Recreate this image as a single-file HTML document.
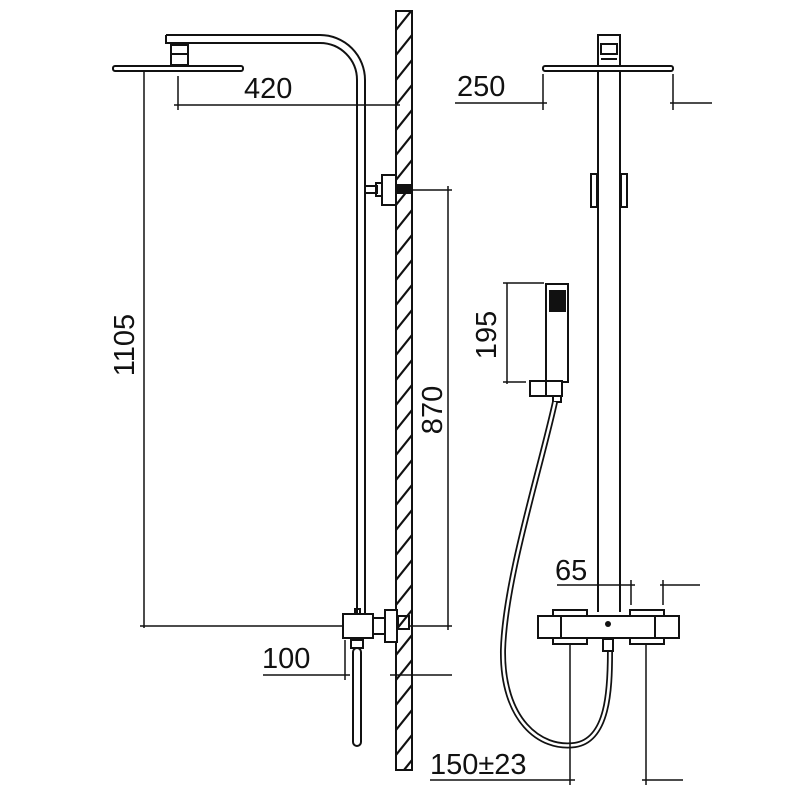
<!DOCTYPE html>
<html><head><meta charset="utf-8"><style>
html,body{margin:0;padding:0;background:#fff;}
svg{display:block;}
text{font-family:"Liberation Sans",sans-serif;font-size:29px;fill:#111;}
</style></head><body>
<svg width="800" height="800" viewBox="0 0 800 800" xmlns="http://www.w3.org/2000/svg">
<defs>
<clipPath id="wc"><rect x="396" y="11" width="16" height="759"/></clipPath>
</defs>
<g fill="none" stroke="#111" stroke-width="2">
<!-- wall -->
<rect x="396" y="11" width="16" height="759" fill="#fff"/>
<g clip-path="url(#wc)" stroke-width="2.2">
<path d="M396 30 L412 10 M396 55 L412 35 M396 80 L412 60 M396 105 L412 85 M396 130 L412 110 M396 155 L412 135 M396 180 L412 160 M396 205 L412 185 M396 230 L412 210 M396 255 L412 235 M396 280 L412 260 M396 305 L412 285 M396 330 L412 310 M396 355 L412 335 M396 380 L412 360 M396 405 L412 385 M396 430 L412 410 M396 455 L412 435 M396 480 L412 460 M396 505 L412 485 M396 530 L412 510 M396 555 L412 535 M396 580 L412 560 M396 605 L412 585 M396 630 L412 610 M396 655 L412 635 M396 680 L412 660 M396 705 L412 685 M396 730 L412 710 M396 755 L412 735 M396 780 L412 760"/>
</g>
<!-- left view head -->
<rect x="113" y="66" width="130" height="5" rx="2"/>
<rect x="171" y="45" width="17" height="20"/>
<line x1="171" y1="54" x2="188" y2="54"/>
<path d="M166 35 L320 35 A45 45 0 0 1 365 80 L365 614"/>
<path d="M166 35 L166 43 L320 43 A37 37 0 0 1 357 80 L357 614"/>
<!-- 420 -->
<line x1="178" y1="76" x2="178" y2="110" stroke-width="1.5"/>
<line x1="174" y1="105" x2="400" y2="105" stroke-width="1.5"/>
<!-- 1105 -->
<line x1="144" y1="71" x2="144" y2="628" stroke-width="1.5"/>
<line x1="140" y1="626" x2="345" y2="626" stroke-width="1.5"/>
<!-- bracket -->
<rect x="365" y="186" width="12" height="7"/>
<rect x="376" y="183" width="6" height="13"/>
<rect x="382" y="175" width="14" height="30"/>
<rect x="396" y="185" width="14" height="8" fill="#111"/>
<line x1="410" y1="190" x2="452" y2="190" stroke-width="1.5"/>
<!-- 870 -->
<line x1="448" y1="186" x2="448" y2="630" stroke-width="1.5"/>
<line x1="410" y1="626" x2="452" y2="626" stroke-width="1.5"/>
<!-- mixer left -->
<rect x="343" y="614" width="30" height="24" fill="#fff"/>
<rect x="373" y="618" width="13" height="16"/>
<rect x="385" y="610" width="12" height="32" fill="#fff"/>
<rect x="398" y="616" width="11" height="13"/>
<rect x="351" y="640" width="12" height="8"/>
<rect x="353" y="648" width="8" height="98" rx="4"/>
<rect x="355" y="609" width="5" height="5"/>
<!-- 100 -->
<line x1="263" y1="675" x2="350" y2="675" stroke-width="1.5"/>
<line x1="345" y1="640" x2="345" y2="680" stroke-width="1.5"/>
<line x1="390" y1="675" x2="452" y2="675" stroke-width="1.5"/>
<!-- right view -->
<rect x="543" y="66" width="130" height="5" rx="2"/>
<rect x="598" y="35" width="22" height="31"/>
<rect x="601" y="44" width="16" height="10"/>
<line x1="601" y1="59" x2="617" y2="59"/>
<line x1="598" y1="71" x2="598" y2="612"/>
<line x1="620" y1="71" x2="620" y2="612"/>
<rect x="591" y="174" width="6" height="33"/>
<rect x="621" y="174" width="6" height="33"/>
<!-- 250 -->
<line x1="455" y1="103" x2="547" y2="103" stroke-width="1.5"/>
<line x1="543" y1="74" x2="543" y2="110" stroke-width="1.5"/>
<line x1="673" y1="74" x2="673" y2="110" stroke-width="1.5"/>
<line x1="670" y1="103" x2="712" y2="103" stroke-width="1.5"/>
<!-- handshower -->
<rect x="546" y="284" width="22" height="98" fill="#fff"/>
<rect x="550" y="291" width="15" height="20" fill="#111"/>
<rect x="530" y="381" width="32" height="15" fill="#fff"/>
<line x1="546" y1="381" x2="546" y2="396"/>
<rect x="553" y="396" width="8" height="6"/>
<!-- 195 -->
<line x1="507" y1="283" x2="507" y2="384" stroke-width="1.5"/>
<line x1="503" y1="283" x2="544" y2="283" stroke-width="1.5"/>
<line x1="503" y1="382" x2="526" y2="382" stroke-width="1.5"/>
<!-- hose -->
<path d="M555 402 C540 470 505 580 503 650 C502 720 540 750 575 745 C608 740 610 690 610 652" stroke-width="6"/>
<path d="M555 402 C540 470 505 580 503 650 C502 720 540 750 575 745 C608 740 610 690 610 652" stroke="#fff" stroke-width="2.5"/>
<!-- mixer right -->
<rect x="553" y="610" width="34" height="34" fill="#fff"/>
<rect x="630" y="610" width="34" height="34" fill="#fff"/>
<rect x="538" y="616" width="141" height="22" fill="#fff"/>
<line x1="561" y1="616" x2="561" y2="638"/>
<line x1="655" y1="616" x2="655" y2="638"/>
<rect x="603" y="639" width="10" height="12"/>
<!-- 65 -->
<line x1="557" y1="585" x2="635" y2="585" stroke-width="1.5"/>
<line x1="631" y1="580" x2="631" y2="605" stroke-width="1.5"/>
<line x1="663" y1="580" x2="663" y2="605" stroke-width="1.5"/>
<line x1="660" y1="585" x2="700" y2="585" stroke-width="1.5"/>
<!-- 150 -->
<line x1="570" y1="645" x2="570" y2="785" stroke-width="1.5"/>
<line x1="646" y1="645" x2="646" y2="785" stroke-width="1.5"/>
<line x1="430" y1="780" x2="575" y2="780" stroke-width="1.5"/>
<line x1="642" y1="780" x2="683" y2="780" stroke-width="1.5"/>
</g>
<circle cx="608" cy="624" r="3" fill="#111"/>
<text x="244" y="98">420</text>
<text x="457" y="96">250</text>
<text x="262" y="668">100</text>
<text x="555" y="580">65</text>
<text x="430" y="774">150±23</text>
<text transform="translate(134,345) rotate(-90)" text-anchor="middle">1105</text>
<text transform="translate(442,410) rotate(-90)" text-anchor="middle">870</text>
<text transform="translate(496,335) rotate(-90)" text-anchor="middle">195</text>
</svg>
</body></html>
